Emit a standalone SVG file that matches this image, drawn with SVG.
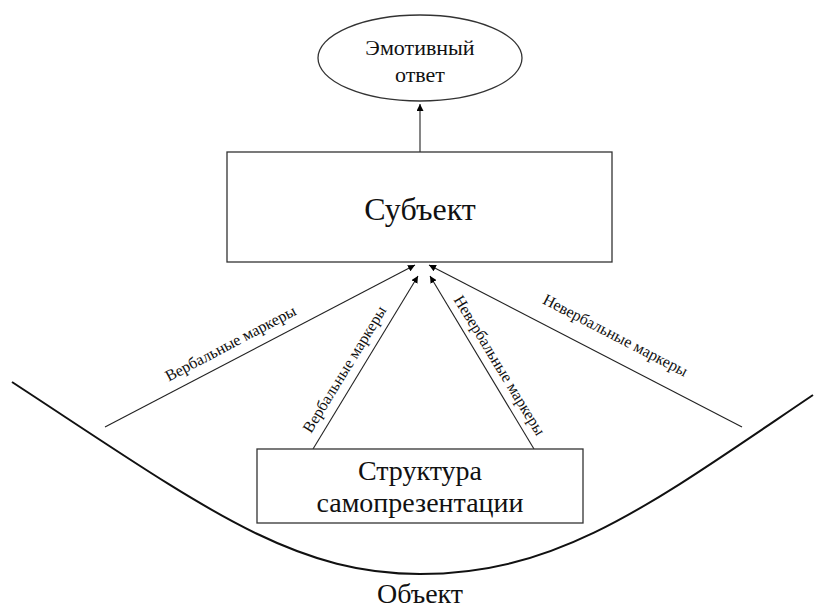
<svg xmlns="http://www.w3.org/2000/svg" width="815" height="610" viewBox="0 0 815 610">
<defs>
<marker id="ah" viewBox="0 0 10 10" refX="10" refY="5" markerWidth="7" markerHeight="7" markerUnits="userSpaceOnUse" orient="auto"><path d="M0,0 L10,5 L0,10 z" fill="#000"/></marker>
<style>
text{font-family:'Liberation Serif',serif !important;fill:#111;text-anchor:middle}
.box{fill:#fff;stroke:#333;stroke-width:1.3}
.c{stroke:#222;stroke-width:1.1;fill:none;marker-end:url(#ah)}
</style>
</defs>
<rect width="815" height="610" fill="#fff"/>
<g id="object">
<path d="M12,382 C200,505 290,574 420,574 C560,574 650,505 813,395" fill="none" stroke="#111" stroke-width="2"/>
<text x="420" y="603" font-size="28" font-family="Liberation Serif">Объект</text>
</g>
<g id="connectors">
<line class="c" x1="420" y1="152" x2="420" y2="104"/>
<line class="c" x1="105" y1="427" x2="415" y2="265"/>
<line class="c" x1="313" y1="449" x2="418" y2="276"/>
<line class="c" x1="534" y1="449" x2="430" y2="276"/>
<line class="c" x1="742" y1="427" x2="429" y2="265"/>
<text font-size="16" font-family="Liberation Serif" transform="translate(233,348) rotate(-27.8)">Вербальные маркеры</text>
<text font-size="16" font-family="Liberation Serif" transform="translate(349,372) rotate(-58.5)">Вербальные маркеры</text>
<text font-size="16" font-family="Liberation Serif" transform="translate(495,368) rotate(58.7)">Невербальные маркеры</text>
<text font-size="16" font-family="Liberation Serif" transform="translate(613,340) rotate(27.4)">Невербальные маркеры</text>
</g>
<g id="emotive">
<ellipse class="box" cx="420" cy="58" rx="102" ry="43"/>
<text x="420" y="55" font-size="22" font-family="Liberation Serif">Эмотивный</text>
<text x="420" y="82" font-size="22" font-family="Liberation Serif">ответ</text>
</g>
<g id="subject">
<rect class="box" x="227" y="152" width="385" height="110"/>
<text x="420" y="220" font-size="32" font-family="Liberation Serif">Субъект</text>
</g>
<g id="structure">
<rect class="box" x="257" y="449" width="326" height="74"/>
<text x="420" y="480" font-size="28" font-family="Liberation Serif">Структура</text>
<text x="420" y="512" font-size="28" font-family="Liberation Serif">самопрезентации</text>
</g>
</svg>
